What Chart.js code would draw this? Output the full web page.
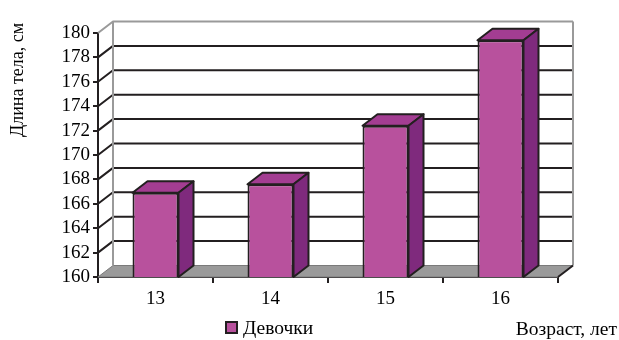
<!DOCTYPE html>
<html lang="ru">
<head>
    <meta charset="UTF-8">
    <title>Длина тела девочек по возрасту</title>
    <script src="https://cdn.jsdelivr.net/npm/chart.js"></script>
    <style>
        body {
            margin: 0;
            padding: 0;
            background-color: #ffffff;
        }
        canvas {
            display: block;
        }
    </style>
</head>
<body>
    <canvas id="heightChart" width="619" height="340"></canvas>
    <script>
        // Возраст (лет) и средняя длина тела девочек (см)
        const ages = ['13', '14', '15', '16'];
        const girls = [166.9, 167.6, 172.4, 179.4];
        const seriesName = 'Девочки';
        const yTitle = 'Длина тела, см';
        const xTitle = 'Возраст, лет';
        const yMin = 160;
        const yMax = 180;
        const yStep = 2;

        // Глубина объёмных столбцов и стенок
        const DX = 15;
        const DY = -11.5;

        const FRONT = '#b8519d';
        const TOP = '#a33d92';
        const SIDE = '#7f2a7d';
        const EDGE = '#231f20';
        const WALL = '#9a9a9a';
        const SERIF = '"Liberation Serif", "Times New Roman", serif';
        const FONT = { family: SERIF, size: 19 };

        // Пол, задняя стенка и линии сетки позади столбцов
        const wallsPlugin = {
            id: 'walls',
            beforeDatasetsDraw(chart) {
                const { ctx, chartArea: a, scales: { y } } = chart;
                ctx.save();
                ctx.lineJoin = 'round';

                // пол
                ctx.beginPath();
                ctx.moveTo(a.left, a.bottom);
                ctx.lineTo(a.right, a.bottom);
                ctx.lineTo(a.right + DX, a.bottom + DY);
                ctx.lineTo(a.left + DX, a.bottom + DY);
                ctx.closePath();
                ctx.fillStyle = WALL;
                ctx.fill();
                ctx.strokeStyle = '#7a7a7a';
                ctx.lineWidth = 1;
                ctx.stroke();

                // сетка на задней стенке
                y.ticks.forEach(t => {
                    if (t.value === yMin) return;
                    const py = y.getPixelForValue(t.value);
                    ctx.strokeStyle = t.value === yMax ? WALL : EDGE;
                    ctx.lineWidth = 2;
                    ctx.beginPath();
                    ctx.moveTo(a.left, py);
                    ctx.lineTo(a.left + DX, py + DY);
                    ctx.lineTo(a.right + DX, py + DY);
                    ctx.stroke();
                });

                // края задней стенки
                ctx.strokeStyle = WALL;
                ctx.lineWidth = 2;
                ctx.beginPath();
                ctx.moveTo(a.left + DX, a.top + DY);
                ctx.lineTo(a.left + DX, a.bottom + DY);
                ctx.moveTo(a.right + DX, a.top + DY);
                ctx.lineTo(a.right + DX, a.bottom + DY);
                ctx.stroke();

                // правый край пола
                ctx.strokeStyle = EDGE;
                ctx.beginPath();
                ctx.moveTo(a.right, a.bottom);
                ctx.lineTo(a.right + DX, a.bottom + DY);
                ctx.stroke();
                ctx.restore();
            }
        };

        // Верхняя и боковая грани столбцов
        const boxPlugin = {
            id: 'boxes',
            afterDatasetsDraw(chart) {
                const ctx = chart.ctx;
                const base = chart.scales.y.getPixelForValue(yMin);
                ctx.save();
                ctx.lineJoin = 'round';
                ctx.lineWidth = 2;
                ctx.strokeStyle = EDGE;
                chart.getDatasetMeta(0).data.forEach(bar => {
                    const { x, y, width } = bar.getProps(['x', 'y', 'width'], true);
                    const l = x - width / 2;
                    const r = x + width / 2;

                    ctx.beginPath();
                    ctx.moveTo(l, y);
                    ctx.lineTo(r, y);
                    ctx.lineTo(r + DX, y + DY);
                    ctx.lineTo(l + DX, y + DY);
                    ctx.closePath();
                    ctx.fillStyle = TOP;
                    ctx.fill();
                    ctx.stroke();

                    ctx.beginPath();
                    ctx.moveTo(r, y);
                    ctx.lineTo(r + DX, y + DY);
                    ctx.lineTo(r + DX, base + DY);
                    ctx.lineTo(r, base);
                    ctx.closePath();
                    ctx.fillStyle = SIDE;
                    ctx.fill();
                    ctx.stroke();
                });
                ctx.restore();
            }
        };

        // Подписи осей и легенда
        const labelsPlugin = {
            id: 'labels',
            afterDraw(chart) {
                const ctx = chart.ctx;
                ctx.save();
                ctx.fillStyle = '#000';
                ctx.textBaseline = 'middle';

                ctx.save();
                ctx.font = '18px ' + SERIF;
                ctx.translate(18, 80);
                ctx.rotate(-Math.PI / 2);
                ctx.textAlign = 'center';
                ctx.fillText(yTitle, 0, 0);
                ctx.restore();

                ctx.font = '19.5px ' + SERIF;
                ctx.textAlign = 'right';
                ctx.fillText(xTitle, 617, 330);

                ctx.fillStyle = FRONT;
                ctx.fillRect(226, 322, 11, 11);
                ctx.strokeStyle = EDGE;
                ctx.lineWidth = 2;
                ctx.strokeRect(226, 322, 11, 11);
                ctx.fillStyle = '#000';
                ctx.textAlign = 'left';
                ctx.fillText(chart.data.datasets[0].label, 243, 329);
                ctx.restore();
            }
        };

        const ctx = document.getElementById('heightChart').getContext('2d');
        new Chart(ctx, {
            type: 'bar',
            data: {
                labels: ages,
                datasets: [{
                    label: seriesName,
                    data: girls,
                    backgroundColor: FRONT,
                    borderColor: EDGE,
                    borderWidth: 2,
                    borderSkipped: false,
                    barPercentage: 1,
                    categoryPercentage: 0.4
                }]
            },
            options: {
                responsive: false,
                animation: false,
                devicePixelRatio: 1,
                layout: { padding: { top: 33, right: 61, left: 0, bottom: 0 } },
                plugins: {
                    legend: { display: false },
                    tooltip: { enabled: false }
                },
                scales: {
                    x: {
                        grid: {
                            drawOnChartArea: false,
                            offset: true,
                            tickLength: 6,
                            color: EDGE,
                            lineWidth: 2
                        },
                        border: { color: EDGE, width: 2 },
                        ticks: { font: FONT, color: '#000', padding: 5 },
                        afterFit(scale) { scale.height = 63; }
                    },
                    y: {
                        min: yMin,
                        max: yMax,
                        grid: {
                            drawOnChartArea: false,
                            tickLength: 5,
                            color: EDGE,
                            lineWidth: 2
                        },
                        border: { color: EDGE, width: 2 },
                        ticks: { stepSize: yStep, autoSkip: false, font: FONT, color: '#000', padding: 3 },
                        afterFit(scale) { scale.width = 98; }
                    }
                }
            },
            plugins: [wallsPlugin, boxPlugin, labelsPlugin]
        });
    </script>
</body>
</html>
